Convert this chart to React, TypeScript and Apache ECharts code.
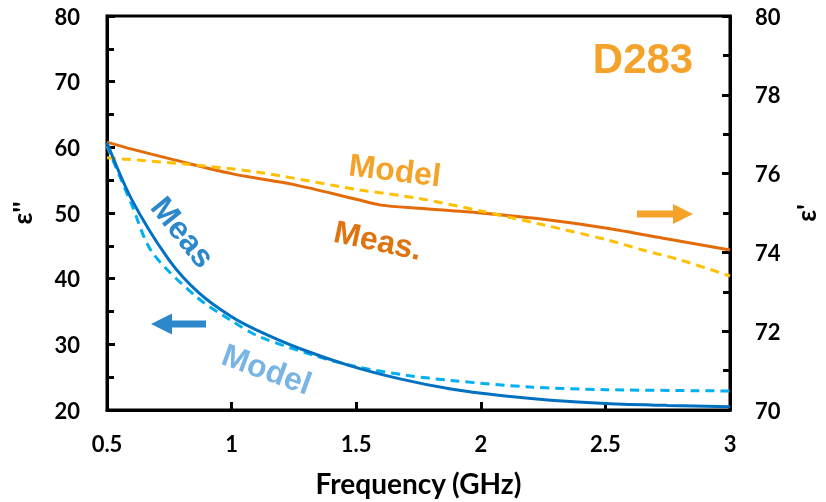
import React, { useEffect, useRef } from "react";
import * as echarts from "echarts";

const measRealF = [0.5, 0.6, 0.75, 1.0, 1.25, 1.5, 1.6, 1.75, 2.0, 2.25, 2.5, 2.75, 3.0];
const measReal = [76.8, 76.62, 76.38, 76.0, 75.72, 75.35, 75.2, 75.12, 75.0, 74.84, 74.62, 74.34, 74.06];

const modelRealF = [0.5, 0.8, 1.1, 1.5, 1.75, 2.0, 2.25, 2.5, 2.65, 2.8, 3.0];
const modelReal = [76.4, 76.25, 76.04, 75.6, 75.37, 75.05, 74.7, 74.33, 74.06, 73.81, 73.4];

const measImagF = [0.5, 0.6, 0.75, 0.87, 1.0, 1.11, 1.27, 1.47, 1.68, 1.88, 2.08, 2.28, 2.5, 2.75, 3.0];
const measImag = [60.7, 52.0, 42.8, 37.8, 34.2, 32.0, 29.4, 26.8, 24.7, 23.2, 22.2, 21.5, 21.0, 20.7, 20.5];

const modelImagF = [0.5, 0.6, 0.68, 0.86, 1.0, 1.11, 1.34, 1.5, 1.7, 1.88, 2.2, 2.5, 3.0];
const modelImag = [60.2, 51.2, 44.1, 37.2, 33.6, 31.2, 28.2, 26.6, 25.3, 24.5, 23.5, 23.1, 22.9];

const pairs = (xs: number[], ys: number[]) => xs.map((x, i) => [x, ys[i]]);

const labelFont = "Lato, 'Open Sans', sans-serif";
const annFont = "'Liberation Sans', Arial, sans-serif";
const deg = Math.PI / 180;

export default function App() {
  const ref = useRef<HTMLDivElement>(null);
  useEffect(() => {
    if (!ref.current) return;
    const chart = echarts.init(ref.current, null, { renderer: "svg" });
    const axisLabel = { fontFamily: labelFont, fontWeight: "bold" as const, fontSize: 22, color: "#000" };
    chart.setOption({
      animation: false,
      grid: { left: 107, right: 96, top: 16, bottom: 92, outerBoundsMode: "none", containLabel: false, show: true, borderColor: "#000", borderWidth: 3, backgroundColor: "transparent" },
      xAxis: {
        type: "value", min: 0.5, max: 3, interval: 0.5,
        name: "Frequency (GHz)", nameLocation: "middle", nameGap: 59,
        nameTextStyle: { fontFamily: labelFont, fontWeight: "bold", fontSize: 28, color: "#000" },
        axisLine: { onZero: false, lineStyle: { color: "#000", width: 3 } },
        axisTick: { inside: true, length: 8, lineStyle: { color: "#000", width: 3 } },
        axisLabel: { ...axisLabel, margin: 22 },
        splitLine: { show: false },
      },
      yAxis: [
        {
          type: "value", min: 20, max: 80, interval: 10, position: "left",
          name: "ε''", nameLocation: "middle", nameGap: 72, nameRotate: 90,
          nameTextStyle: { fontFamily: labelFont, fontWeight: "bold", fontSize: 26, color: "#000" },
          axisLine: { show: true, lineStyle: { color: "#000", width: 3 } },
          axisTick: { show: true, inside: true, length: 8, lineStyle: { color: "#000", width: 3 } },
          minorTick: { show: true, splitNumber: 2, length: 7, lineStyle: { color: "#000", width: 3 } },
          axisLabel: { ...axisLabel, margin: 27 },
          splitLine: { show: false },
          minorSplitLine: { show: false },
        },
        {
          type: "value", min: 70, max: 80, interval: 2, position: "right",
          name: "ε'", nameLocation: "middle", nameGap: 63, nameRotate: 90,
          nameTextStyle: { fontFamily: labelFont, fontWeight: "bold", fontSize: 26, color: "#000" },
          axisLine: { show: true, lineStyle: { color: "#000", width: 3 } },
          axisTick: { show: true, inside: true, length: 8, lineStyle: { color: "#000", width: 3 } },
          minorTick: { show: true, splitNumber: 2, length: 7, lineStyle: { color: "#000", width: 3 } },
          axisLabel: { ...axisLabel, margin: 25 },
          splitLine: { show: false },
          minorSplitLine: { show: false },
        },
      ],
      series: [
        {
          name: "Meas ε'", type: "line", yAxisIndex: 1, smooth: 0.3, showSymbol: false,
          data: pairs(measRealF, measReal), lineStyle: { color: "#E36C0A", width: 3 },
        },
        {
          name: "Model ε'", type: "line", yAxisIndex: 1, smooth: 0.3, showSymbol: false,
          data: pairs(modelRealF, modelReal), lineStyle: { color: "#FFC000", width: 3, type: [9, 6] },
        },
        {
          name: "Model ε''", type: "line", yAxisIndex: 0, smooth: 0.3, showSymbol: false,
          data: pairs(modelImagF, modelImag), lineStyle: { color: "#00B0F0", width: 3, type: [9, 6] },
        },
        {
          name: "Meas ε''", type: "line", yAxisIndex: 0, smooth: 0.3, showSymbol: false,
          data: pairs(measImagF, measImag), lineStyle: { color: "#0070C0", width: 3 },
        },
      ],
      graphic: [
        { type: "text", x: 643, y: 58, style: { text: "D283", fontFamily: annFont, fontWeight: "bold", fontSize: 42, fill: "#F5A22A", align: "center", verticalAlign: "middle" } },
        { type: "text", x: 395, y: 170, rotation: -7 * deg, style: { text: "Model", fontFamily: annFont, fontWeight: "bold", fontSize: 32, fill: "#F5A22A", align: "center", verticalAlign: "middle" } },
        { type: "text", x: 378, y: 240, rotation: -12 * deg, style: { text: "Meas.", fontFamily: annFont, fontWeight: "bold", fontSize: 32, fill: "#DD7410", align: "center", verticalAlign: "middle" } },
        { type: "text", x: 183, y: 232, rotation: -51 * deg, style: { text: "Meas", fontFamily: annFont, fontWeight: "bold", fontSize: 32, fill: "#2C87CB", align: "center", verticalAlign: "middle" } },
        { type: "text", x: 267, y: 369, rotation: -20 * deg, style: { text: "Model", fontFamily: annFont, fontWeight: "bold", fontSize: 32, fill: "#78B5E5", align: "center", verticalAlign: "middle" } },
        { type: "polygon", shape: { points: [[151, 324], [172, 313.5], [172, 320.5], [206, 320.5], [206, 327.5], [172, 327.5], [172, 334.5]] }, style: { fill: "#2C87CB" } },
        { type: "polygon", shape: { points: [[693, 214], [673, 204], [673, 210.5], [637, 210.5], [637, 217.5], [673, 217.5], [673, 224]] }, style: { fill: "#F5A22A" } },
      ],
    });
    return () => chart.dispose();
  }, []);
  return <div ref={ref} style={{ position: "fixed", left: 0, top: 0, width: 826, height: 502 }} />;
}
